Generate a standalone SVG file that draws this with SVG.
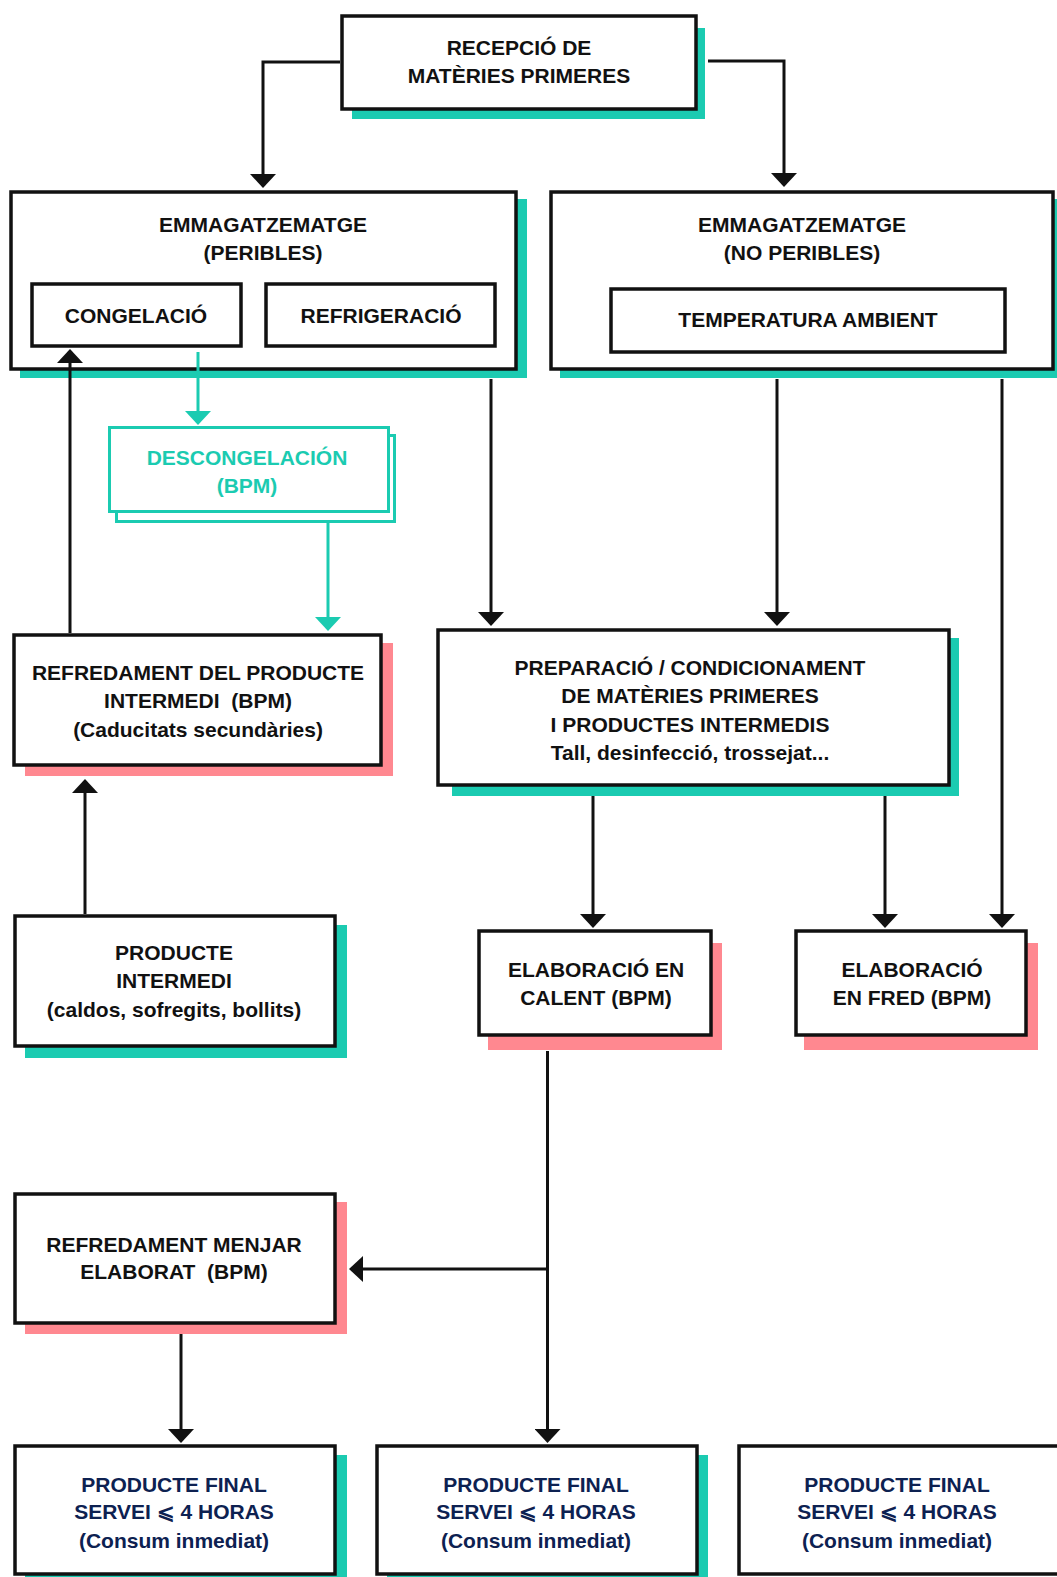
<svg xmlns="http://www.w3.org/2000/svg" width="1057" height="1577" viewBox="0 0 1057 1577">
<defs>
<style>
.box{fill:#fff;stroke:#111;stroke-width:3.5}
.tbox{fill:#fff;stroke:#1bcbb1;stroke-width:3}
.sh-t{fill:#1bcbb1}
.sh-p{fill:#ff8890}
.t{font-family:"Liberation Sans",Arial,sans-serif;font-weight:700;font-size:21px;fill:#111;text-anchor:middle}
.tt{fill:#1bcbb1}
.tn{fill:#0d2151}
.c{fill:none;stroke:#111;stroke-width:3}
.ct{fill:none;stroke:#1bcbb1;stroke-width:3}
</style>
<marker id="ah" viewBox="0 0 14 26" refX="6" refY="13" markerWidth="14" markerHeight="26" markerUnits="userSpaceOnUse" orient="auto">
<path d="M0,0 L14,13 L0,26 z" fill="#111"/>
</marker>
<marker id="aht" viewBox="0 0 14 26" refX="6" refY="13" markerWidth="14" markerHeight="26" markerUnits="userSpaceOnUse" orient="auto">
<path d="M0,0 L14,13 L0,26 z" fill="#1bcbb1"/>
</marker>
</defs>
<rect width="1057" height="1577" fill="#fff"/>

<g id="recepcio">
<rect class="sh-t" x="352" y="28" width="353" height="91"/>
<rect class="box" x="342" y="16" width="354" height="93"/>
<text class="t" x="519" y="55">RECEPCIÓ DE</text>
<text class="t" x="519" y="83">MATÈRIES PRIMERES</text>
</g>

<g id="emmagatzematge-peribles">
<rect class="sh-t" x="20" y="199" width="507" height="179"/>
<rect class="box" x="11" y="192" width="505" height="177"/>
<text class="t" x="263" y="232">EMMAGATZEMATGE</text>
<text class="t" x="263" y="260">(PERIBLES)</text>
</g>

<g id="congelacio">
<rect class="box" x="32" y="284" width="209" height="62"/>
<text class="t" x="136" y="323">CONGELACIÓ</text>
</g>

<g id="refrigeracio">
<rect class="box" x="266" y="284" width="229" height="62"/>
<text class="t" x="381" y="323">REFRIGERACIÓ</text>
</g>

<g id="emmagatzematge-no-peribles">
<rect class="sh-t" x="560" y="199" width="500" height="179"/>
<rect class="box" x="551" y="192" width="502" height="177"/>
<text class="t" x="802" y="232">EMMAGATZEMATGE</text>
<text class="t" x="802" y="260">(NO PERIBLES)</text>
</g>

<g id="temperatura-ambient">
<rect class="box" x="611" y="289" width="394" height="63"/>
<text class="t" x="808" y="327">TEMPERATURA AMBIENT</text>
</g>

<g id="descongelacion">
<rect class="tbox" x="116.5" y="435.5" width="278" height="86"/>
<rect class="tbox" x="109.5" y="427.5" width="279" height="84"/>
<text class="t tt" x="247" y="465">DESCONGELACIÓN</text>
<text class="t tt" x="247" y="493">(BPM)</text>
</g>

<g id="refredament-producte-intermedi">
<rect class="sh-p" x="25" y="643" width="368" height="133"/>
<rect class="box" x="14" y="635" width="367" height="130"/>
<text class="t" x="198" y="680">REFREDAMENT DEL PRODUCTE</text>
<text class="t" x="198" y="708" xml:space="preserve">INTERMEDI  (BPM)</text>
<text class="t" x="198" y="737">(Caducitats secundàries)</text>
</g>

<g id="preparacio">
<rect class="sh-t" x="452" y="638" width="507" height="158"/>
<rect class="box" x="438" y="630" width="511" height="155"/>
<text class="t" x="690" y="675">PREPARACIÓ / CONDICIONAMENT</text>
<text class="t" x="690" y="703">DE MATÈRIES PRIMERES</text>
<text class="t" x="690" y="732">I PRODUCTES INTERMEDIS</text>
<text class="t" x="690" y="760">Tall, desinfecció, trossejat...</text>
</g>

<g id="producte-intermedi">
<rect class="sh-t" x="25" y="925" width="322" height="133"/>
<rect class="box" x="15" y="916" width="320" height="130"/>
<text class="t" x="174" y="960">PRODUCTE</text>
<text class="t" x="174" y="988">INTERMEDI</text>
<text class="t" x="174" y="1017">(caldos, sofregits, bollits)</text>
</g>

<g id="elaboracio-calent">
<rect class="sh-p" x="488" y="943" width="234" height="107"/>
<rect class="box" x="479" y="931" width="232" height="104"/>
<text class="t" x="596" y="977">ELABORACIÓ EN</text>
<text class="t" x="596" y="1005">CALENT (BPM)</text>
</g>

<g id="elaboracio-fred">
<rect class="sh-p" x="804" y="943" width="234" height="107"/>
<rect class="box" x="796" y="931" width="230" height="104"/>
<text class="t" x="912" y="977">ELABORACIÓ</text>
<text class="t" x="912" y="1005">EN FRED (BPM)</text>
</g>

<g id="refredament-menjar-elaborat">
<rect class="sh-p" x="25" y="1202" width="322" height="132"/>
<rect class="box" x="15" y="1194" width="320" height="129"/>
<text class="t" x="174" y="1252">REFREDAMENT MENJAR</text>
<text class="t" x="174" y="1279" xml:space="preserve">ELABORAT  (BPM)</text>
</g>

<g id="producte-final-1">
<rect class="sh-t" x="25" y="1455" width="322" height="130"/>
<rect class="box" x="15" y="1446" width="320" height="128"/>
<text class="t tn" x="174" y="1492">PRODUCTE FINAL</text>
<text class="t tn" x="174" y="1519">SERVEI ⩽ 4 HORAS</text>
<text class="t tn" x="174" y="1548">(Consum inmediat)</text>
</g>

<g id="producte-final-2">
<rect class="sh-t" x="387" y="1455" width="321" height="130"/>
<rect class="box" x="377" y="1446" width="320" height="128"/>
<text class="t tn" x="536" y="1492">PRODUCTE FINAL</text>
<text class="t tn" x="536" y="1519">SERVEI ⩽ 4 HORAS</text>
<text class="t tn" x="536" y="1548">(Consum inmediat)</text>
</g>

<g id="producte-final-3">
<rect class="box" x="739" y="1446" width="330" height="128"/>
<text class="t tn" x="897" y="1492">PRODUCTE FINAL</text>
<text class="t tn" x="897" y="1519">SERVEI ⩽ 4 HORAS</text>
<text class="t tn" x="897" y="1548">(Consum inmediat)</text>
</g>

<g id="connectors">
<path class="c" d="M340,62 H263 V180" marker-end="url(#ah)"/>
<path class="c" d="M708,61 H784 V179" marker-end="url(#ah)"/>
<path class="c" d="M70,633 V357" marker-end="url(#ah)"/>
<path class="ct" d="M198,352 V417" marker-end="url(#aht)"/>
<path class="ct" d="M328,523 V623" marker-end="url(#aht)"/>
<path class="c" d="M491,379 V618" marker-end="url(#ah)"/>
<path class="c" d="M777,379 V618" marker-end="url(#ah)"/>
<path class="c" d="M1002,379 V920" marker-end="url(#ah)"/>
<path class="c" d="M593,796 V920" marker-end="url(#ah)"/>
<path class="c" d="M885,796 V920" marker-end="url(#ah)"/>
<path class="c" d="M85,914 V787" marker-end="url(#ah)"/>
<path class="c" d="M547.5,1051 V1435" marker-end="url(#ah)"/>
<path class="c" d="M547.5,1269 H357" marker-end="url(#ah)"/>
<path class="c" d="M181,1334 V1435" marker-end="url(#ah)"/>
</g>
</svg>
